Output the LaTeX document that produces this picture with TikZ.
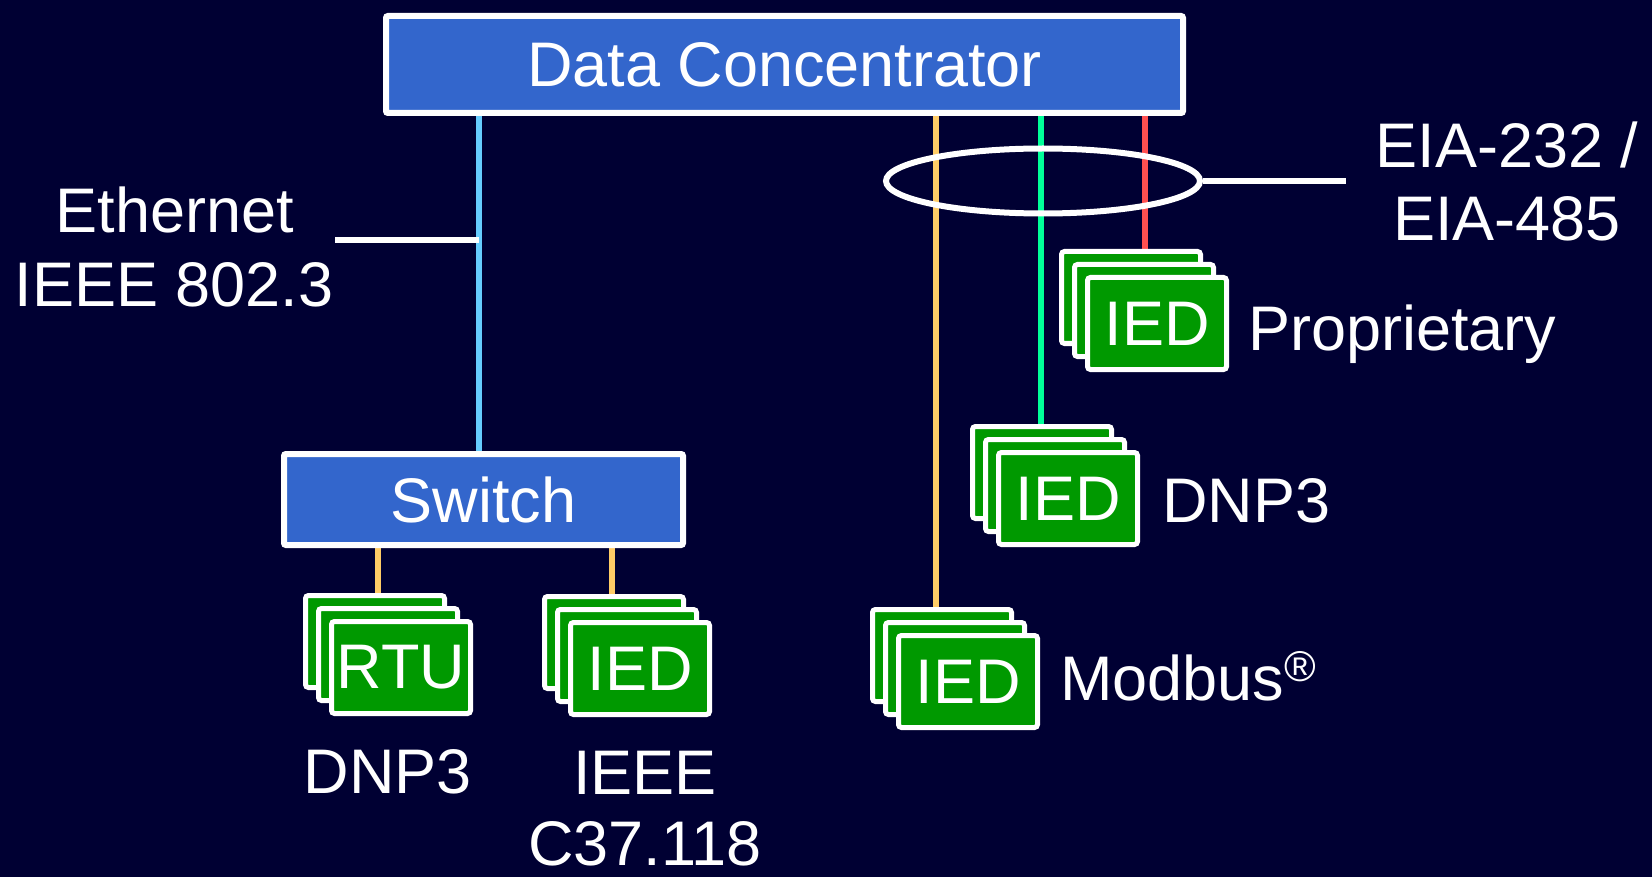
\documentclass[tikz,border=0pt]{standalone}
\usepackage{fontspec}
\setmainfont{Liberation Sans}
\usetikzlibrary{shapes.geometric}
\definecolor{bg}{RGB}{0,0,51}
\definecolor{boxblue}{RGB}{51,102,204}
\definecolor{cardgreen}{RGB}{0,153,0}
\definecolor{lblue}{RGB}{102,204,255}
\definecolor{lorange}{RGB}{255,204,102}
\definecolor{lgreen}{RGB}{0,255,153}
\definecolor{lred}{RGB}{255,80,80}
\pgfdeclarelayer{bgfill}
\pgfdeclarelayer{lines}
\pgfsetlayers{bgfill,lines,main}
\begin{document}
\begin{tikzpicture}[x=1pt,y=1pt,
  txt/.style={text=white, font=\fontsize{63}{73}\selectfont, inner sep=0pt},
  bluebox/.style={txt, draw=white, line width=6pt, fill=boxblue, rounded corners=2pt},
  card/.style={txt, draw=white, line width=5pt, fill=cardgreen, minimum width=139pt, minimum height=92pt, rounded corners=3pt},
  link/.style={line width=6pt},
  wline/.style={draw=white, line width=6pt}
]
\begin{pgfonlayer}{bgfill}
\fill[bg] (0,0) rectangle (1652,-877);
\end{pgfonlayer}
\useasboundingbox (0,0) rectangle (1652,-877);

% main boxes
\node[bluebox, minimum width=797pt, minimum height=97pt] (dc) at (784.5,-64.5) {Data Concentrator};
\node[bluebox, minimum width=399pt, minimum height=91pt] (sw) at (483.5,-499.5) {Switch};

% card stacks
\node[card] (rtuB) at (375,-641.5) {};
\node[card] (rtuM) at (388,-654.5) {};
\node[card] (rtuF) at (401,-667.5) {RTU};

\node[card] (siB) at (614,-642.5) {};
\node[card] (siM) at (627,-655.5) {};
\node[card] (siF) at (640,-668.5) {IED};

\node[card] (mbB) at (942,-655.5) {};
\node[card] (mbM) at (955,-668.5) {};
\node[card] (mbF) at (968,-681.5) {IED};

\node[card] (dnB) at (1042,-472.5) {};
\node[card] (dnM) at (1055,-485.5) {};
\node[card] (dnF) at (1068,-498.5) {IED};

\node[card] (prB) at (1131,-297.5) {};
\node[card] (prM) at (1144,-310.5) {};
\node[card] (prF) at (1157,-323.5) {IED};

% x positions of connectors
\coordinate (xE) at (479,0);
\coordinate (xR) at (378,0);
\coordinate (xI) at (612,0);
\coordinate (xM) at (936,0);
\coordinate (xD) at (1041,0);
\coordinate (xP) at (1145,0);

\begin{pgfonlayer}{lines}
\draw[link, lblue] (dc.south -| xE) -- (sw.north -| xE);
\draw[link, lorange] (sw.south -| xR) -- (rtuB.north -| xR);
\draw[link, lorange] (sw.south -| xI) -- (siB.north -| xI);
\draw[link, lorange] (dc.south -| xM) -- (mbB.north -| xM);
\draw[link, lgreen] (dc.south -| xD) -- (dnB.north -| xD);
\draw[link, lred] (dc.south -| xP) -- (prB.north -| xP);
\end{pgfonlayer}

% ellipse bundle
\node[draw=white, line width=6pt, ellipse, minimum width=314pt, minimum height=65pt, inner sep=0pt] (bus) at (1043,-181) {};
\coordinate (busEnd) at (1346,-181);
\draw[wline] (bus.east) -- (busEnd);

% ethernet leader
\coordinate (ethEnd) at (335,-240);
\draw[wline] (ethEnd) -- (ethEnd -| xE);

% labels
\node[txt, anchor=base] (eth1) at (175,-233) {Ethernet};
\node[txt, anchor=base] (eth2) at (174,-307) {IEEE 802.3};
\node[txt, anchor=base] (eia1) at (1507,-168) {EIA-232 /};
\node[txt, anchor=base] (eia2) at (1507,-241) {EIA-485};
\node[txt, anchor=base west] (prop) at (1248,-350) {Proprietary};
\node[txt, anchor=base west] (dnp) at (1162,-522) {DNP3};
\node[txt, anchor=base west] (mod) at (1060,-700) {Modbus\raisebox{19pt}{\fontsize{43}{43}\selectfont ®}};
\node[txt, anchor=base] (dnp2) at (388,-793) {DNP3};
\node[txt, anchor=base] (ieee1) at (645,-794) {IEEE};
\node[txt, anchor=base] (ieee2) at (645,-865) {C37.118};
\end{tikzpicture}
\end{document}
